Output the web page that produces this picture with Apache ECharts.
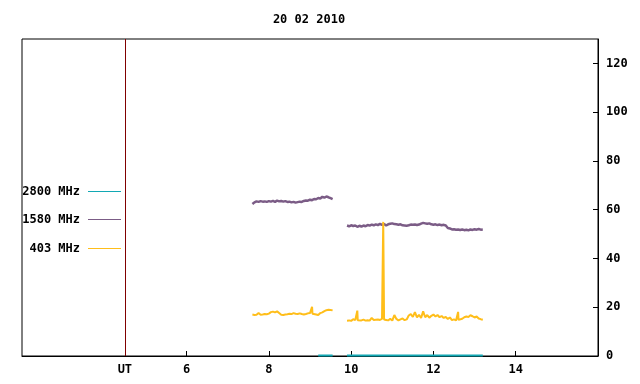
<!DOCTYPE html>
<html>
<head>
<meta charset="utf-8">
<script src="https://cdn.jsdelivr.net/npm/echarts@6/dist/echarts.min.js"></script>
<style>html,body{margin:0;padding:0;background:#fff}#c{width:640px;height:384px}</style>
</head>
<body>
<div id="c"></div>
<script>
var title = '20 02 2010';
var seriesNames = ['2800 MHz', '1580 MHz', '403 MHz'];
var xTickValues = [6, 8, 10, 12, 14];
var utMarker = 4.5;
var yTickValues = [0, 20, 40, 60, 80, 100, 120];

// 1580 MHz sample times (UT hours)
var t1 = [7.60,7.65,7.70,7.75,7.80,7.85,7.90,7.95,8.00,8.05,8.10,8.15,8.20,8.25,8.30,8.35,8.40,8.45,8.50,8.55,
          8.60,8.65,8.70,8.75,8.80,8.85,8.90,8.95,9.00,9.05,9.10,9.15,9.20,9.25,9.30,9.35,9.40,9.45,9.50,9.55];
var t2 = [9.90,9.95,10.00,10.05,10.10,10.15,10.20,10.25,10.30,10.35,10.40,10.45,10.50,10.55,10.60,10.65,10.70,10.75,10.80,10.85,
          10.90,10.95,11.00,11.05,11.10,11.15,11.20,11.25,11.30,11.35,11.40,11.45,11.50,11.55,11.60,11.65,11.70,11.75,11.80,11.85,
          11.90,11.95,12.00,12.05,12.10,12.15,12.20,12.25,12.30,12.35,12.40,12.45,12.50,12.55,12.60,12.65,12.70,12.75,12.80,12.85,
          12.90,12.95,13.00,13.05,13.10,13.15,13.20];
var mhz1580a = [62.3,63.0,63.4,63.2,63.5,63.3,63.4,63.2,63.5,63.3,63.6,63.2,63.7,63.4,63.6,63.3,63.5,63.2,63.3,63.0,
                63.2,62.9,63.1,63.3,63.2,63.6,63.8,63.7,64.1,63.9,64.4,64.3,64.8,64.6,65.3,64.9,65.4,65.1,64.7,64.3];
var mhz1580b = [53.5,53.2,53.6,53.3,53.5,53.0,53.4,53.1,53.5,53.2,53.7,53.5,53.9,53.6,54.0,53.7,54.2,53.8,54.1,53.5,
                54.0,54.2,54.4,54.1,54.0,53.8,54.0,53.6,53.5,53.4,53.6,53.9,53.8,53.9,53.7,53.9,54.3,54.6,54.4,54.2,
                54.4,54.0,53.8,54.0,53.7,53.9,53.6,53.8,53.5,52.5,52.3,51.9,52.0,51.8,51.9,51.7,51.9,51.6,51.8,51.5,
                51.9,51.7,52.0,51.8,52.1,51.8,51.9];

// 403 MHz sample times (UT hours) and values
var ty1 = [7.60,7.65,7.70,7.75,7.80,7.85,7.90,7.95,8.00,8.05,8.10,8.15,8.20,8.25,8.30,8.35,8.40,8.45,8.50,8.55,
           8.60,8.65,8.70,8.75,8.80,8.85,8.90,8.95,9.00,9.04,9.05,9.06,9.10,9.15,9.20,9.25,9.30,9.35,9.40,9.45,9.50,9.55];
var mhz403a = [17.0,16.8,16.9,17.6,16.9,17.0,17.2,17.1,17.4,18.0,18.2,17.9,18.3,17.6,16.9,16.8,17.0,17.1,17.3,17.2,
               17.6,17.3,17.2,17.5,17.2,17.0,17.2,17.5,17.6,17.4,20.2,17.3,17.2,17.0,16.8,17.6,17.9,18.4,18.8,19.0,18.9,18.7];
var ty2 = [9.90,9.95,10.00,10.05,10.10,10.14,10.15,10.16,10.20,10.25,10.30,10.35,10.40,10.45,10.50,10.55,10.60,10.65,10.70,10.75,
           10.77,10.78,10.79,10.80,10.85,10.90,10.95,11.00,11.05,11.10,11.15,11.20,11.25,11.30,11.35,11.40,11.45,11.50,11.55,11.60,
           11.65,11.70,11.75,11.80,11.85,11.90,11.95,12.00,12.05,12.10,12.15,12.20,12.25,12.30,12.35,12.40,12.45,12.50,12.55,12.59,
           12.60,12.61,12.65,12.70,12.75,12.80,12.85,12.90,12.95,13.00,13.05,13.10,13.15,13.20];
var mhz403b = [14.5,14.6,14.4,15.1,14.7,14.8,18.6,14.7,14.8,14.6,14.9,14.5,14.7,14.5,15.6,14.8,14.9,15.0,14.8,15.2,
               15.0,55.0,35.5,15.0,14.8,14.6,15.3,14.5,16.8,15.2,14.6,15.0,15.4,14.7,15.0,16.6,17.2,16.0,18.0,15.8,
               16.9,15.6,18.3,15.9,16.8,15.7,16.5,17.0,16.2,16.8,15.9,16.4,15.6,16.0,15.2,15.8,14.7,15.0,14.6,14.7,
               18.1,14.8,14.8,15.3,15.9,16.2,16.0,16.7,16.3,15.8,16.2,15.4,15.1,14.9];

// 2800 MHz (near zero, two stretches)
var mhz2800t = [9.20, 9.55, null, 9.90, 13.20];
var mhz2800v = [0.2, 0.2, null, 0.2, 0.2];

function pairs(ta, va, tb, vb) {
  var out = [];
  for (var i = 0; i < ta.length; i++) out.push([ta[i], va[i]]);
  out.push([(ta[ta.length - 1] + tb[0]) / 2, null]);
  for (var j = 0; j < tb.length; j++) out.push([tb[j], vb[j]]);
  return out;
}
var d2800 = mhz2800t.map(function (t, i) { return t === null ? [9.7, null] : [t, mhz2800v[i]]; });
var d1580 = pairs(t1, mhz1580a, t2, mhz1580b);
var d403 = pairs(ty1, mhz403a, ty2, mhz403b);

var FONT = 'DejaVu Sans Mono';
var colors = ['#12a8b4', '#7b5c86', '#ffbe1a'];

function legendFor(name, top) {
  return {
    data: [name], right: 519, top: top, padding: 0, orient: 'vertical',
    align: 'right', icon: 'rect', itemWidth: 33, itemHeight: 1, selectedMode: false,
    textStyle: { fontFamily: FONT, fontWeight: 'bold', fontSize: 12, color: '#000', padding: [0, 3, 0, 0], lineHeight: 15 }
  };
}

var chart = echarts.init(document.getElementById('c'), null, { renderer: 'canvas' });
chart.setOption({
  animation: false,
  backgroundColor: '#fff',
  title: {
    text: title, left: 309, top: 14, textAlign: 'center', padding: 0,
    textStyle: { fontFamily: FONT, fontWeight: 'bold', fontSize: 12, color: '#000' }
  },
  legend: [legendFor(seriesNames[0], 184), legendFor(seriesNames[1], 212), legendFor(seriesNames[2], 241)],
  grid: { left: 22, right: 42, top: 39, bottom: 28, show: true, borderColor: '#000', borderWidth: 1, containLabel: false },
  xAxis: {
    type: 'value', min: 2, max: 16, interval: 2,
    axisLine: { show: true, lineStyle: { color: '#000', width: 1 } },
    axisTick: { show: true, inside: true, length: 5, customValues: xTickValues, lineStyle: { color: '#000' } },
    axisLabel: {
      customValues: [utMarker].concat(xTickValues), margin: 8,
      fontFamily: FONT, fontWeight: 'bold', fontSize: 12, color: '#000',
      formatter: function (v) { return v === utMarker ? 'UT' : String(v); }
    },
    splitLine: { show: false }
  },
  yAxis: {
    type: 'value', position: 'right', min: 0, max: 130, interval: 20,
    axisLine: { show: true, lineStyle: { color: '#000', width: 1 } },
    axisTick: { show: true, inside: true, length: 5, customValues: yTickValues, lineStyle: { color: '#000' } },
    axisLabel: { customValues: yTickValues, margin: 8, fontFamily: FONT, fontWeight: 'bold', fontSize: 12, color: '#000' },
    splitLine: { show: false }
  },
  series: [
    {
      name: seriesNames[0], type: 'line', data: d2800, showSymbol: false, connectNulls: false,
      color: colors[0], lineStyle: { width: 2, color: colors[0] },
      markLine: {
        silent: true, symbol: 'none', label: { show: false },
        lineStyle: { color: '#800000', width: 1, type: 'solid' },
        data: [{ xAxis: utMarker }]
      }
    },
    {
      name: seriesNames[1], type: 'line', data: d1580, showSymbol: false, connectNulls: false,
      color: colors[1], lineStyle: { width: 2.5, color: colors[1] }
    },
    {
      name: seriesNames[2], type: 'line', data: d403, showSymbol: false, connectNulls: false,
      color: colors[2], lineStyle: { width: 2, color: colors[2] }
    }
  ]
});
</script>
</body>
</html>
